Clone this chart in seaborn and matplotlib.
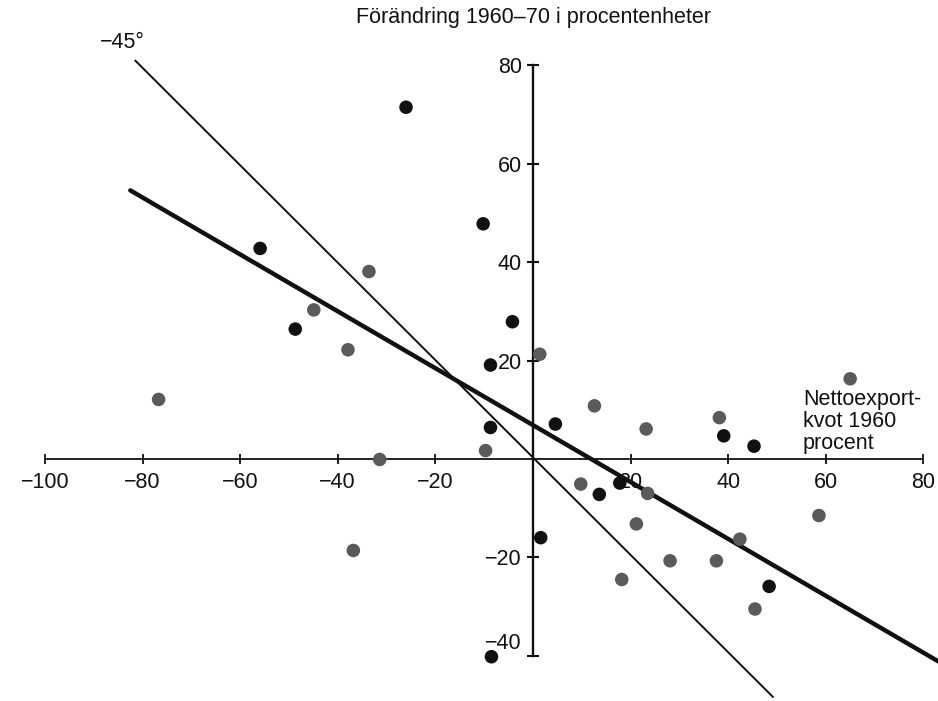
import numpy as np
import pandas as pd
import matplotlib
matplotlib.use('Agg')
import matplotlib.pyplot as plt
import matplotlib.transforms as mtransforms
import seaborn as sns

# points: (net export ratio 1960, change 1960-70)
black_x = [-26.0, -10.2, -55.9, -48.7, -4.2, -8.7, -8.7, 4.6, 39.1, 45.3, 13.6, 17.8, 1.6, 48.4, -8.5]
black_y = [71.5, 47.8, 42.8, 26.4, 27.9, 19.1, 6.4, 7.1, 4.7, 2.6, -7.2, -4.9, -16.0, -25.9, -40.2]
gray_x = [-76.7, -44.9, -33.6, -37.9, -31.4, -36.8, -9.7, 1.4, 12.6, 9.8, 23.2, 23.5, 21.2,
          18.2, 28.1, 37.6, 38.2, 42.4, 45.5, 58.6, 65.0]
gray_y = [12.1, 30.3, 38.1, 22.2, -0.1, -18.6, 1.7, 21.3, 10.8, -5.1, 6.1, -7.0, -13.2,
          -24.5, -20.7, -20.7, 8.4, -16.3, -30.5, -11.5, 16.3]

# the two straight lines (end points)
line45_x = [-81.5, 49.2]
line45_y = [81.0, -48.4]
reg_x = [-82.5, 83.5]
reg_y = [54.6, -41.4]

xticks = [-100, -80, -60, -40, -20, 20, 40, 60, 80]
yticks = [-40, -20, 20, 40, 60, 80]

df = pd.DataFrame({
    'x': black_x + gray_x,
    'y': black_y + gray_y,
    'group': ['black'] * len(black_x) + ['gray'] * len(gray_x),
})

sns.set_style('white')
plt.rcParams['font.family'] = ['Liberation Sans', 'DejaVu Sans']

fig = plt.figure(figsize=(9.38, 7.01), dpi=100)
ax = fig.add_axes([0, 0, 1, 1])

sns.lineplot(x=line45_x, y=line45_y, color='#111111', linewidth=1.4, ax=ax, zorder=2)
sns.lineplot(x=reg_x, y=reg_y, color='#111111', linewidth=3.2, ax=ax, zorder=2)
sns.scatterplot(data=df, x='x', y='y', hue='group',
                palette={'black': '#111111', 'gray': '#5a5a5a'},
                s=95, linewidth=0, legend=False, ax=ax, zorder=3)

ax.set_xlim(-109.2, 83.0)
ax.set_ylim(-49.2, 93.3)
ax.set_xlabel('')
ax.set_ylabel('')

for side in ['top', 'right']:
    ax.spines[side].set_visible(False)
ax.spines['left'].set_position(('data', 0))
ax.spines['bottom'].set_position(('data', 0))
ax.spines['left'].set_bounds(-40, 80)
ax.spines['bottom'].set_bounds(-100, 80)
ax.spines['left'].set_linewidth(1.7)
ax.spines['bottom'].set_linewidth(1.3)
ax.spines['left'].set_color('#111111')
ax.spines['bottom'].set_color('#111111')

ax.set_xticks(xticks)
ax.set_yticks(yticks)
ax.set_xticklabels([str(t).replace('-', '\u2212') for t in xticks])
ax.set_yticklabels([str(t).replace('-', '\u2212') for t in yticks])
ax.tick_params(axis='x', bottom=True, direction='inout', length=7, width=1.3, pad=5.9,
               labelsize=15.5, colors='#111111')
ax.tick_params(axis='y', left=True, direction='inout', length=8, width=1.5, pad=4.0,
               labelsize=15.5, colors='#111111')

# the -40 label sits a bit higher in the original
t = ax.yaxis.get_major_ticks()[0]
t.label1.set_transform(t.label1.get_transform() +
                       mtransforms.ScaledTranslation(0, 0.15, fig.dpi_scale_trans))

ax.text(533 / 938, 1 - 18 / 701, 'Förändring 1960\u201370 i procentenheter',
        transform=ax.transAxes, ha='center', va='center', fontsize=15.5, color='#111111')
ax.text(122 / 938, 1 - 43 / 701, '\u221245°', transform=ax.transAxes,
        ha='center', va='center', fontsize=15.5, color='#111111')
ax.text(803 / 938, 1 - 389 / 701, 'Nettoexport-\nkvot 1960\nprocent',
        transform=ax.transAxes, ha='left', va='top', fontsize=15.5,
        linespacing=1.05, color='#111111')

fig.savefig('out.png', dpi=100)
